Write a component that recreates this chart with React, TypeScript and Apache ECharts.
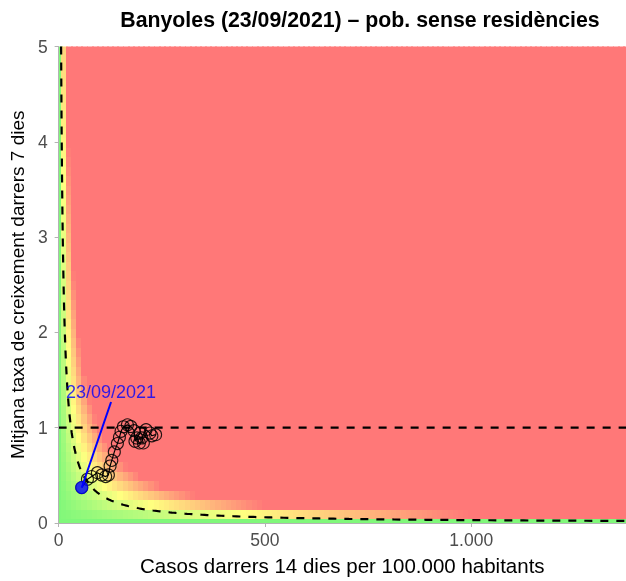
import React, { useEffect, useRef } from "react";
import * as echarts from "echarts";

// ---- data ----
const TITLE = "Banyoles (23/09/2021) – pob. sense residències";
const LAST_DATE = "23/09/2021";
const X_TITLE = "Casos darrers 14 dies per 100.000 habitants";
const Y_TITLE = "Mitjana taxa de creixement darrers 7 dies";

const X_MAX = 1375;
const Y_MAX = 5;
const X_TICK_STEP = 500;
const Y_TICK_STEP = 1;

// risk surface grid (EPG = cases14 * growth7)
const TILE_DX = 12.5;
const TILE_DY = 0.1;
const EPG_REF = 30; // dashed reference curve x*y = 30
const GROWTH_REF = 1; // horizontal dashed line
const COLOR_STOP_VALUES = [0, 45, 100];
const COLOR_STOP_RGB = [
  [128, 248, 122],
  [255, 255, 128],
  [255, 120, 120],
];

// trajectory (chronological, last = current date)
const cases14 = [
  235, 226, 221.5, 211.9, 201.4, 205.4, 195.7, 189.3, 197.3, 185, 182.8,
  174.8, 166.7, 157, 151.3, 147.3, 142.4, 135, 128.8, 124.7, 120.6, 114,
  104.6, 94, 80, 69.8, 56,
];
const growth7 = [
  0.927, 0.915, 0.944, 0.979, 0.892, 0.84, 0.84, 0.892, 0.944, 0.858, 0.969,
  1.013, 1.03, 1.01, 0.962, 0.899, 0.833, 0.746, 0.657, 0.598, 0.504, 0.487,
  0.504, 0.528, 0.487, 0.459, 0.372,
];
const LABEL_ANCHOR = [127, 1.27];

function epgColor(v: number): string {
  const s = COLOR_STOP_VALUES;
  let c: number[];
  if (v <= s[0]) c = COLOR_STOP_RGB[0];
  else if (v >= s[s.length - 1]) c = COLOR_STOP_RGB[s.length - 1];
  else {
    let i = 0;
    while (v > s[i + 1]) i++;
    const t = (v - s[i]) / (s[i + 1] - s[i]);
    const a = COLOR_STOP_RGB[i];
    const b = COLOR_STOP_RGB[i + 1];
    c = a.map((q, k) => Math.round(q + (b[k] - q) * t));
  }
  return `rgb(${c[0]},${c[1]},${c[2]})`;
}

export default function App() {
  const ref = useRef<HTMLDivElement>(null);
  useEffect(() => {
    if (!ref.current) return;
    const chart = echarts.init(ref.current, undefined, { renderer: "svg" });
    const font = "Liberation Sans, Arial, sans-serif";

    const heat: number[][] = [];
    const nx = Math.round(X_MAX / TILE_DX);
    const ny = Math.round(Y_MAX / TILE_DY);
    for (let i = 0; i <= nx; i++) {
      for (let j = 0; j <= ny; j++) {
        const x = i * TILE_DX;
        const y = j * TILE_DY;
        heat.push([x, y, x * y]);
      }
    }

    const curve: number[][] = [];
    const xStart = EPG_REF / Y_MAX;
    const N = 300;
    for (let k = 0; k <= N; k++) {
      const x = xStart * Math.pow(X_MAX / xStart, k / N);
      curve.push([x, EPG_REF / x]);
    }

    const path = cases14.map((x, i) => [x, growth7[i]]);
    const last = path[path.length - 1];

    const axisLineColor = "#B3B3B3";
    const labelColor = "#4D4D4D";

    chart.setOption({
      animation: false,
      grid: { left: 58.5, right: 0, top: 46.5, bottom: 53.5, containLabel: false },
      xAxis: {
        type: "value",
        min: 0,
        max: X_MAX,
        interval: X_TICK_STEP,
        name: X_TITLE,
        nameLocation: "middle",
        nameGap: 32,
        nameTextStyle: { fontFamily: font, fontSize: 20.5, color: "#000" },
        axisLine: { show: true, lineStyle: { color: axisLineColor, width: 1 } },
        axisTick: { show: true, length: 4, lineStyle: { color: axisLineColor } },
        axisLabel: {
          show: true,
          fontFamily: font,
          fontSize: 17.5,
          color: labelColor,
          margin: 8,
          showMaxLabel: false,
          formatter: (v: number) =>
            String(v).replace(/\B(?=(\d{3})+(?!\d))/g, "."),
        },
        splitLine: { show: false },
        z: 10,
      },
      yAxis: {
        type: "value",
        min: 0,
        max: Y_MAX,
        interval: Y_TICK_STEP,
        name: Y_TITLE,
        nameLocation: "middle",
        nameGap: 26,
        nameTextStyle: { fontFamily: font, fontSize: 19, color: "#000" },
        axisLine: { show: true, lineStyle: { color: axisLineColor, width: 1 } },
        axisTick: { show: true, length: 4, lineStyle: { color: axisLineColor } },
        axisLabel: {
          show: true,
          fontFamily: font,
          fontSize: 17.5,
          color: labelColor,
          margin: 11,
        },
        splitLine: { show: false },
        z: 10,
      },
      graphic: [
        {
          type: "text",
          x: 360,
          y: 20,
          style: {
            text: TITLE,
            textAlign: "center",
            textVerticalAlign: "middle",
            font: `bold 21.3px ${font}`,
            fill: "#000",
          },
        },
      ],
      series: [
        {
          type: "custom",
          data: heat,
          silent: true,
          progressive: 0,
          z: 1,
          encode: { x: 0, y: 1 },
          renderItem: (params: any, api: any) => {
            const x = api.value(0);
            const y = api.value(1);
            const v = api.value(2);
            const p = api.coord([x - TILE_DX / 2, y + TILE_DY / 2]);
            const s = api.size([TILE_DX, TILE_DY]);
            const cs = params.coordSys;
            const rect = echarts.graphic.clipRectByRect(
              {
                x: Math.floor(p[0]),
                y: Math.floor(p[1]),
                width: Math.ceil(s[0]) + 1,
                height: Math.ceil(s[1]) + 1,
              },
              { x: cs.x, y: cs.y, width: cs.width, height: cs.height }
            );
            if (!rect) return null;
            const col = epgColor(v);
            return { type: "rect", shape: rect, style: { fill: col } };
          },
        },
        {
          type: "line",
          data: curve,
          symbol: "none",
          silent: true,
          z: 3,
          lineStyle: { color: "#000", width: 2.2, type: [8, 8] },
        },
        {
          type: "line",
          data: [
            [0, GROWTH_REF],
            [X_MAX, GROWTH_REF],
          ],
          symbol: "none",
          silent: true,
          z: 3,
          lineStyle: { color: "#000", width: 2.2, type: [8, 8] },
        },
        {
          type: "line",
          data: path,
          symbol: "circle",
          symbolSize: 12,
          showAllSymbol: true,
          silent: true,
          z: 4,
          lineStyle: { color: "#000", width: 1.2 },
          itemStyle: {
            color: "rgba(0,0,0,0)",
            borderColor: "rgba(0,0,0,0.85)",
            borderWidth: 1.1,
          },
        },
        {
          type: "line",
          data: [last, LABEL_ANCHOR],
          symbol: "none",
          silent: true,
          z: 5,
          lineStyle: { color: "#0000FF", width: 2 },
        },
        {
          type: "scatter",
          data: [last],
          symbol: "circle",
          symbolSize: 13,
          silent: true,
          z: 6,
          itemStyle: { color: "#0000FF" },
        },
        {
          type: "scatter",
          data: [LABEL_ANCHOR],
          symbolSize: 0,
          silent: true,
          z: 6,
          label: {
            show: true,
            position: "top",
            distance: 1,
            formatter: LAST_DATE,
            color: "#0000FF",
            fontFamily: font,
            fontSize: 18,
          },
        },
      ],
    });
    return () => chart.dispose();
  }, []);
  return (
    <div
      ref={ref}
      style={{ position: "fixed", left: 0, top: 0, width: 626, height: 581 }}
    />
  );
}
